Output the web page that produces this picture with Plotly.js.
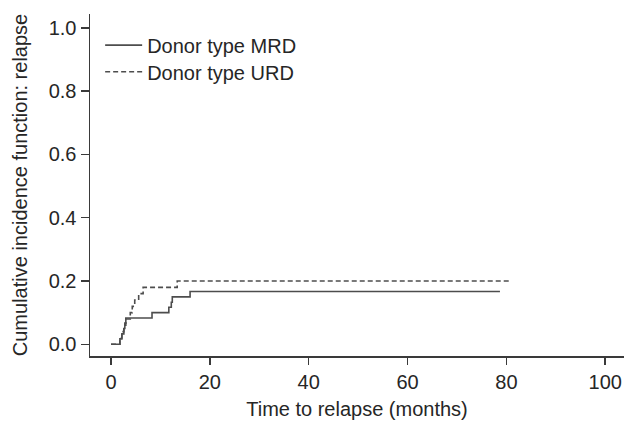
<!DOCTYPE html>
<html>
<head>
<meta charset="utf-8">
<script src="https://cdn.plot.ly/plotly-3.0.1.min.js"></script>
<style>html,body{margin:0;padding:0;background:#fff;}#chart{width:624px;height:421px;}</style>
</head>
<body>
<div id="chart"></div>
<script>
// Donor type MRD (solid)
const mrdTime = [0, 1.8, 2.2, 2.6, 2.8, 3.0, 8.3, 11.7, 12.2, 12.4, 16.0, 78.7];
const mrdCIF  = [0, 0.017, 0.033, 0.05, 0.067, 0.083, 0.1, 0.117, 0.133, 0.15, 0.167, 0.167];
// Donor type URD (dashed)
const urdTime = [0, 1.8, 2.2, 2.6, 3.0, 3.9, 4.3, 4.8, 5.6, 6.5, 13.4, 81.0];
const urdCIF  = [0, 0.02, 0.04, 0.06, 0.08, 0.10, 0.12, 0.14, 0.16, 0.18, 0.20, 0.20];

const xTicks = [0, 20, 40, 60, 80, 100];
const yTicks = [0, 0.2, 0.4, 0.6, 0.8, 1.0];
const yTickLabels = ['0.0', '0.2', '0.4', '0.6', '0.8', '1.0'];

const FONT = 'Liberation Sans, Arial, sans-serif';
const FS = 20;
const LINE = '#4d4d4d';
const AX = '#3a3a3a';
const TXT = '#262626';

const traces = [
  {x: mrdTime, y: mrdCIF, name: 'Donor type MRD', mode: 'lines', legend: 'legend',
   line: {shape: 'hv', color: LINE, width: 1.6, dash: 'solid'}},
  {x: urdTime, y: urdCIF, name: 'Donor type URD', mode: 'lines', legend: 'legend2',
   line: {shape: 'hv', color: LINE, width: 1.6, dash: '5px,3px'}}
];

const legendBase = {x: 0.019, xanchor: 'left', yanchor: 'middle', itemwidth: 37,
  bgcolor: 'rgba(0,0,0,0)', borderwidth: 0, font: {family: FONT, size: FS, color: TXT}};

const layout = {
  width: 624, height: 421,
  margin: {l: 90, r: 0, t: 14, b: 65, pad: 0},
  paper_bgcolor: '#fff', plot_bgcolor: '#fff',
  font: {family: FONT, size: FS, color: TXT},
  showlegend: true,
  legend: Object.assign({}, legendBase, {y: 0.909}),
  legend2: Object.assign({}, legendBase, {y: 0.831}),
  xaxis: {range: [-4.25, 103.8], tickvals: xTicks, ticktext: xTicks.map(String),
          showgrid: false, zeroline: false, showline: true, linecolor: AX, linewidth: 1.5,
          ticks: 'outside', ticklen: 7, tickwidth: 1.5, tickcolor: AX,
          tickfont: {family: FONT, size: FS, color: TXT},
          title: {text: 'Time to relapse (months)', font: {family: FONT, size: FS, color: TXT}, standoff: 10}},
  yaxis: {range: [-0.037, 1.044], tickvals: yTicks, ticktext: yTickLabels,
          showgrid: false, zeroline: false, showline: true, linecolor: AX, linewidth: 1.5,
          ticks: 'outside', ticklen: 8, tickwidth: 1.5, tickcolor: AX,
          tickfont: {family: FONT, size: FS, color: TXT},
          title: {text: 'Cumulative incidence function: relapse', font: {family: FONT, size: FS, color: TXT}, standoff: 15}}
};

Plotly.newPlot('chart', traces, layout, {displayModeBar: false, staticPlot: true});
</script>
</body>
</html>
